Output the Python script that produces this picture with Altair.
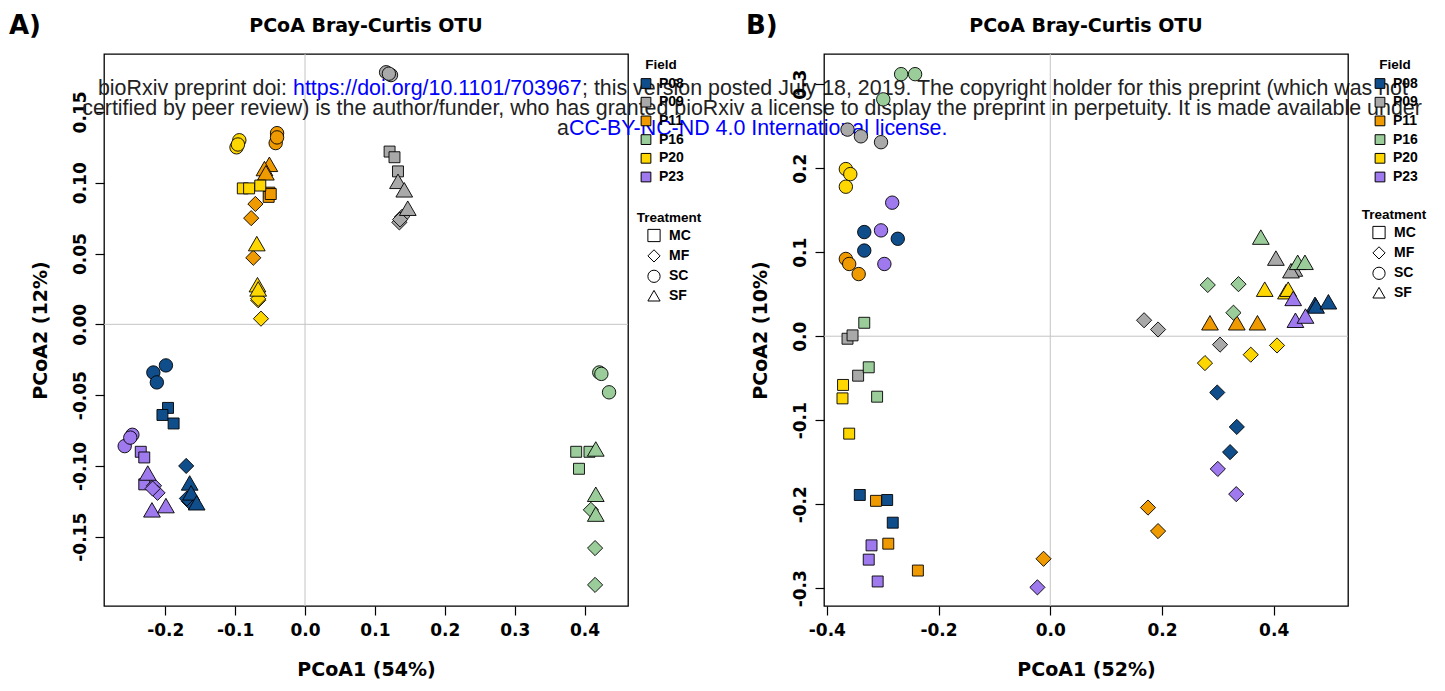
import altair as alt
import pandas as pd

FIELDS = ["P08", "P09", "P11", "P16", "P20", "P23"]
TREATMENTS = ["MC", "MF", "SC", "SF"]
FIELD_COLORS = ["#104E8B", "#A9A9A9", "#EE9A00", "#9BCD9B", "#FFD700", "#9F79EE"]
TREATMENT_SHAPES = ["square", "diamond", "circle", "triangle-up"]
TREATMENT_SIZES = [120, 230, 180, 280]

# group order (3 samples each)
GROUP_FIELD = ["P08"] * 4 + ["P09"] * 4 + ["P11"] * 4 + ["P16"] * 4 + ["P20"] * 4 + ["P23"] * 4
GROUP_TREAT = ["SC", "MC", "MF", "SF"] * 6

# Panel A : PCoA1 (54%) / PCoA2 (12%)
A_PC1 = [
    [-0.199, -0.217, -0.212], [-0.196, -0.204, -0.188], [-0.170, -0.166, -0.169], [-0.165, -0.163, -0.155],
    [0.116, 0.123, 0.120], [0.121, 0.128, 0.133], [0.135, 0.139, 0.136], [0.133, 0.142, 0.147],
    [-0.040, -0.042, -0.040], [-0.051, -0.052, -0.049], [-0.071, -0.077, -0.074], [-0.051, -0.058, -0.056],
    [0.421, 0.424, 0.435], [0.388, 0.407, 0.392], [0.409, 0.415, 0.415], [0.416, 0.416, 0.416],
    [-0.094, -0.098, -0.096], [-0.089, -0.080, -0.064], [-0.067, -0.063, -0.067], [-0.069, -0.068, -0.067],
    [-0.247, -0.258, -0.250], [-0.235, -0.230, -0.230], [-0.216, -0.211, -0.218], [-0.225, -0.219, -0.199],
]
A_PC2 = [
    [-0.029, -0.034, -0.041], [-0.059, -0.064, -0.070], [-0.100, -0.125, -0.123], [-0.112, -0.119, -0.126],
    [0.178, 0.176, 0.177], [0.122, 0.118, 0.108], [0.072, 0.076, 0.074], [0.101, 0.095, 0.082],
    [0.135, 0.128, 0.132], [0.093, 0.090, 0.092], [0.085, 0.075, 0.047], [0.113, 0.110, 0.107],
    [-0.034, -0.035, -0.048], [-0.090, -0.090, -0.102], [-0.131, -0.158, -0.184], [-0.088, -0.120, -0.134],
    [0.130, 0.125, 0.127], [0.096, 0.096, 0.098], [0.017, 0.004, 0.018], [0.057, 0.028, 0.025],
    [-0.078, -0.086, -0.080], [-0.090, -0.094, -0.113], [-0.114, -0.119, -0.116], [-0.105, -0.131, -0.128],
]

# Panel B : PCoA1 (52%) / PCoA2 (10%)
B_PC1 = [
    [-0.333, -0.273, -0.333], [-0.341, -0.292, -0.282], [0.299, 0.334, 0.322], [0.474, 0.476, 0.498],
    [-0.363, -0.339, -0.303], [-0.363, -0.354, -0.344], [0.168, 0.193, 0.304], [0.404, 0.437, 0.431],
    [-0.366, -0.360, -0.343], [-0.312, -0.290, -0.237], [0.175, 0.193, -0.012], [0.286, 0.334, 0.371],
    [-0.267, -0.242, -0.299], [-0.333, -0.325, -0.310], [0.282, 0.337, 0.328], [0.377, 0.443, 0.456],
    [-0.366, -0.358, -0.366], [-0.371, -0.372, -0.360], [0.277, 0.359, 0.406], [0.384, 0.422, 0.426],
    [-0.283, -0.303, -0.297], [-0.320, -0.325, -0.309], [0.300, 0.333, -0.023], [0.435, 0.439, 0.457],
]
B_PC2 = [
    [0.124, 0.116, 0.102], [-0.189, -0.195, -0.222], [-0.067, -0.108, -0.138], [0.038, 0.036, 0.041],
    [0.246, 0.238, 0.231], [-0.003, 0.001, -0.047], [0.019, 0.008, -0.010], [0.093, 0.080, 0.078],
    [0.092, 0.086, 0.074], [-0.196, -0.247, -0.279], [-0.204, -0.232, -0.265], [0.016, 0.016, 0.016],
    [0.312, 0.312, 0.282], [0.016, -0.037, -0.072], [0.061, 0.062, 0.028], [0.118, 0.088, 0.088],
    [0.199, 0.193, 0.178], [-0.058, -0.074, -0.116], [-0.032, -0.022, -0.011], [0.056, 0.053, 0.056],
    [0.159, 0.126, 0.086], [-0.249, -0.266, -0.292], [-0.158, -0.188, -0.299], [0.045, 0.019, 0.024],
]

A_XTICKS = [-0.2, -0.1, 0.0, 0.1, 0.2, 0.3, 0.4]
A_YTICKS = [-0.15, -0.10, -0.05, 0.0, 0.05, 0.10, 0.15]
B_XTICKS = [-0.4, -0.2, 0.0, 0.2, 0.4]
B_YTICKS = [-0.3, -0.2, -0.1, 0.0, 0.1, 0.2, 0.3]

TITLE = "PCoA Bray-Curtis OTU"
WM1 = ["bioRxiv preprint doi:", "https://doi.org/10.1101/703967",
       "; this version posted July 18, 2019. The copyright holder for this preprint (which was not"]
WM2 = "certified by peer review) is the author/funder, who has granted bioRxiv a license to display the preprint in perpetuity. It is made available under"
WM3 = ["a", "CC-BY-NC-ND 4.0 International license", "."]

W, H = 524, 552
BOLD = "DejaVu Sans"
ARIAL = "Liberation Sans"


def frame(pc1, pc2):
    rows = []
    for f, t, xs, ys in zip(GROUP_FIELD, GROUP_TREAT, pc1, pc2):
        for x, y in zip(xs, ys):
            rows.append({"field": f, "treat": t, "tcode": TREATMENTS.index(t), "pc1": x, "pc2": y})
    return pd.DataFrame(rows)


def panel(df, xdom, ydom, xticks, yticks, yfmt, xtitle, ytitle, letter, letter_x,
          leg_x, tleg_x, tleg_y, watermark):
    fmt_expr = "replace(format(datum.value, '{}'), '\u2212', '-')"
    X = alt.X("pc1:Q", scale=alt.Scale(domain=xdom, nice=False, zero=False),
              axis=alt.Axis(values=xticks, labelExpr=fmt_expr.format(".1f"), title=xtitle,
                            labelPadding=7, titlePadding=22))
    Y = alt.Y("pc2:Q", scale=alt.Scale(domain=ydom, nice=False, zero=False),
              axis=alt.Axis(values=yticks, labelExpr=fmt_expr.format(yfmt), title=ytitle,
                            labelAngle=270, labelAlign="center", labelBaseline="bottom",
                            labelPadding=6, titlePadding=21))
    vline = alt.Chart(pd.DataFrame({"pc1": [0.0]})).mark_rule(color="#C4C4C4", strokeWidth=1).encode(x=X)
    hline = alt.Chart(pd.DataFrame({"pc2": [0.0]})).mark_rule(color="#C4C4C4", strokeWidth=1).encode(y=Y)
    pts = alt.Chart(df).mark_point(filled=True, stroke="black", strokeWidth=0.9, opacity=1,
                                   fillOpacity=1, strokeOpacity=1).encode(
        x=X, y=Y,
        fill=alt.Fill("field:N", scale=alt.Scale(domain=FIELDS, range=FIELD_COLORS),
                      legend=alt.Legend(title="Field", orient="none", legendX=leg_x, legendY=4,
                                        symbolType="square", symbolSize=95,
                                        symbolStrokeColor="black", symbolStrokeWidth=1,
                                        labelFont=ARIAL, labelFontWeight="bold", labelFontSize=14,
                                        labelColor="black", titleFont=ARIAL, titleFontWeight="bold",
                                        titleFontSize=13.5, titleColor="black", titleAnchor="middle",
                                        rowPadding=4.7, titlePadding=5, padding=0, labelOffset=6)),
        shape=alt.Shape("treat:N", scale=alt.Scale(domain=TREATMENTS, range=TREATMENT_SHAPES),
                        legend=alt.Legend(title="Treatment", orient="none", legendX=tleg_x, legendY=tleg_y,
                                          symbolSize=150, symbolFillColor="white",
                                          symbolStrokeColor="black", symbolStrokeWidth=1,
                                          labelFont=ARIAL, labelFontWeight="bold", labelFontSize=14,
                                          labelColor="black", titleFont=ARIAL, titleFontWeight="bold",
                                          titleFontSize=13.5, titleColor="black", titleAnchor="middle",
                                          rowPadding=2.4, titlePadding=4, padding=0, labelOffset=8)),
        size=alt.Size("tcode:Q", scale=alt.Scale(domain=[0, 1, 2, 3], range=TREATMENT_SIZES),
                      legend=None),
    )
    title = alt.Chart(pd.DataFrame({"t": [TITLE]})).mark_text(
        font=BOLD, fontWeight="bold", fontSize=19, align="center", baseline="middle", color="black"
    ).encode(text="t:N", x=alt.value(W / 2), y=alt.value(-28))
    lab = alt.Chart(pd.DataFrame({"t": [letter]})).mark_text(
        font=BOLD, fontWeight="bold", fontSize=26, align="left", baseline="middle", color="black"
    ).encode(text="t:N", x=alt.value(letter_x), y=alt.value(-28))
    layers = [vline, hline, pts, title, lab]
    if watermark:
        def wm(text, x, y, align, color):
            return alt.Chart(pd.DataFrame({"t": [text]})).mark_text(
                font=ARIAL, fontSize=21.4, align=align, baseline="middle", color=color
            ).encode(text="t:N", x=alt.value(x), y=alt.value(y))
        layers += [
            wm(WM1[0], 183, 35, "right", "#222222"),
            wm(WM1[1], 189, 35, "left", "#0000FF"),
            wm(WM1[2], 478, 35, "left", "#222222"),
            wm(WM2, 648, 55, "center", "#222222"),
            wm(WM3[0], 465, 75, "right", "#222222"),
            wm(WM3[1] + WM3[2], 465, 75, "left", "#0000FF"),
        ]
    return alt.layer(*layers).properties(width=W, height=H)


pa = panel(frame(A_PC1, A_PC2), [-0.2876, 0.4621], [-0.1989, 0.1909], A_XTICKS, A_YTICKS, ".2f",
           "PCoA1 (54%)", "PCoA2 (12%)", "A)", -95, 535, 533, 157, True)
pb = panel(frame(B_PC1, B_PC2), [-0.4051, 0.5331], [-0.3212, 0.3360], B_XTICKS, B_YTICKS, ".1f",
           "PCoA1 (52%)", "PCoA2 (10%)", "B)", -78, 549, 538, 154, False)

chart = alt.hconcat(pa, pb, spacing=196, bounds="flush").resolve_scale(
    x="independent", y="independent", fill="independent", shape="independent", size="independent"
).resolve_legend(fill="independent", shape="independent", size="independent").properties(
    padding={"left": 8, "top": 12, "right": 2, "bottom": 2}, background="white"
).configure_view(stroke="black", strokeWidth=1.3).configure_axis(
    grid=False, domain=False, tickColor="black", tickSize=9, tickWidth=1.2,
    labelFont=BOLD, labelFontWeight="bold", labelFontSize=17, labelColor="black",
    titleFont=BOLD, titleFontWeight="bold", titleFontSize=19, titleColor="black"
).configure_legend(symbolBaseFillColor="white", symbolBaseStrokeColor="black")

chart.save("out.html", embed_options={"renderer": "svg", "actions": False})
